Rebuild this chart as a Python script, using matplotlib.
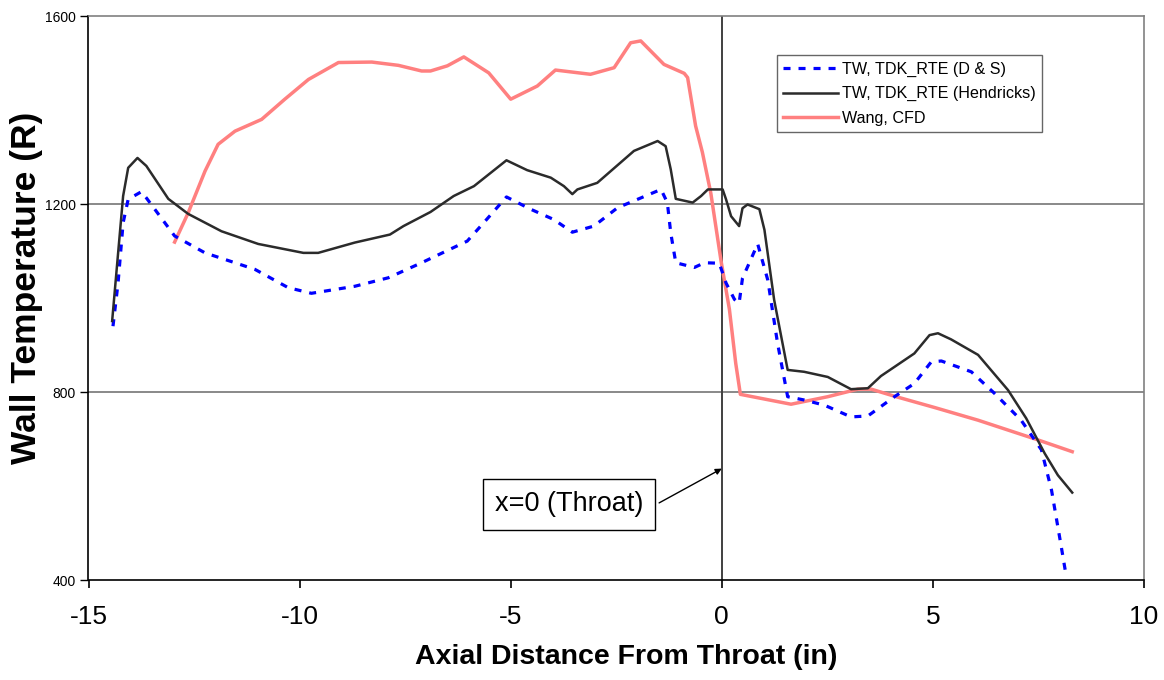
import matplotlib
matplotlib.use("Agg")
import matplotlib.pyplot as plt
from matplotlib.ticker import FixedLocator

plt.rcParams['font.family'] = ['Liberation Sans', 'DejaVu Sans']

# ---- data ----
ds_x = [-14.42, -14.30, -14.18, -14.06, -13.75, -13.63, -12.96, -12.24, -11.06, -10.27,
        -9.72, -8.69, -7.90, -7.11, -6.90, -6.03, -5.64, -5.10, -4.53, -3.98,
        -3.54, -3.03, -2.47, -1.44, -1.29, -1.21, -1.09, -0.65, -0.41, -0.06,
        0.10, 0.30, 0.41, 0.49, 0.85, 1.09, 1.32, 1.56, 1.95, 2.43,
        3.06, 3.46, 4.09, 4.56, 4.96, 5.20, 5.91, 6.46, 7.09, 7.57,
        7.81, 8.04, 8.16]
ds_y = [940, 1032, 1160, 1210, 1226, 1213, 1132, 1096, 1061, 1022,
        1010, 1025, 1043, 1075, 1084, 1121, 1160, 1215, 1189, 1167,
        1140, 1153, 1192, 1231, 1203, 1139, 1075, 1065, 1075, 1074,
        1032, 997, 989, 1042, 1115, 1038, 904, 790, 783, 772,
        747, 749, 790, 818, 864, 866, 843, 797, 740, 677,
        591, 471, 407]

hend_x = [-14.44, -14.18, -14.06, -13.84, -13.63, -13.11, -12.64, -11.85, -10.98, -9.91,
          -9.56, -8.69, -7.86, -7.54, -6.90, -6.35, -5.87, -5.10, -4.61, -4.05,
          -3.74, -3.54, -3.42, -2.95, -2.08, -1.52, -1.33, -1.21, -1.09, -0.69,
          -0.49, -0.33, 0.02, 0.10, 0.22, 0.41, 0.49, 0.61, 0.89, 1.01,
          1.24, 1.56, 1.95, 2.51, 3.06, 3.46, 3.77, 4.56, 4.92, 5.12,
          5.43, 6.07, 6.78, 7.21, 7.65, 7.96, 8.30]
hend_y = [951, 1217, 1277, 1298, 1281, 1211, 1179, 1142, 1115, 1096,
          1096, 1118, 1135, 1153, 1183, 1217, 1238, 1293, 1272, 1256,
          1238, 1221, 1231, 1245, 1313, 1334, 1323, 1274, 1211, 1203,
          1217, 1231, 1231, 1210, 1174, 1153, 1191, 1199, 1189, 1145,
          996, 847, 843, 832, 806, 808, 834, 882, 921, 925,
          912, 879, 804, 744, 669, 623, 586]

wang_x = [-12.96, -12.64, -12.24, -11.93, -11.53, -10.90, -10.35, -9.79, -9.08, -8.29,
          -7.66, -7.11, -6.90, -6.50, -6.11, -5.52, -5.00, -4.37, -3.94, -3.11,
          -2.55, -2.16, -1.92, -1.37, -0.89, -0.81, -0.62, -0.46, -0.26, -0.02,
          0.18, 0.33, 0.44, 1.64, 2.51, 3.22, 3.54, 4.09, 5.04, 6.07,
          6.78, 7.49, 8.30]
wang_y = [1119, 1181, 1270, 1327, 1355, 1380, 1423, 1465, 1501, 1502,
          1495, 1483, 1483, 1494, 1513, 1479, 1423, 1451, 1485, 1476,
          1490, 1543, 1547, 1497, 1478, 1469, 1366, 1310, 1223, 1080,
          976, 861, 795, 774, 790, 806, 806, 791, 767, 740,
          719, 698, 673]

series_labels = ["TW, TDK_RTE (D & S)", "TW, TDK_RTE (Hendricks)", "Wang, CFD"]
x_ticks = [-15, -10, -5, 0, 5, 10]
y_ticks = [400, 800, 1200, 1600]
x_label = "Axial Distance From Throat (in)"
y_label = "Wall Temperature (R)"
annot_text = "x=0 (Throat)"

# ---- figure ----
W, H = 1164, 680
fig = plt.figure(figsize=(W / 100, H / 100), dpi=100)
ax = fig.add_axes([88.5 / W, 1 - 580 / H, (1144 - 88.5) / W, (580 - 16) / H])

ax.set_xlim(-15, 10)
ax.set_ylim(400, 1600)

# gridlines at 800 and 1200 only
for yv in y_ticks[1:-1]:
    ax.axhline(yv, color='#808080', lw=1.3, zorder=1)
# throat line
ax.axvline(0, color='#404040', lw=1.4, zorder=1)

ax.plot(ds_x, ds_y, color='#0000FF', lw=2.3, dashes=(2.2, 2.5), label=series_labels[0], zorder=3)
ax.plot(hend_x, hend_y, color='#2b2b2b', lw=1.8, label=series_labels[1], zorder=3)
ax.plot(wang_x, wang_y, color='#FF8080', lw=2.5, label=series_labels[2], zorder=2)

ax.xaxis.set_major_locator(FixedLocator(x_ticks))
ax.yaxis.set_major_locator(FixedLocator(y_ticks))
ax.tick_params(axis='x', direction='out', length=6, width=1.2, labelsize=19, pad=12)
ax.tick_params(axis='y', direction='out', length=6, width=1.0, labelsize=10, pad=3)
ax.set_xticklabels([str(v) for v in x_ticks])
ax.set_yticklabels([str(v) for v in y_ticks])

for s in ['left', 'bottom']:
    ax.spines[s].set_color('black')
    ax.spines[s].set_linewidth(1.2)
for s in ['top', 'right']:
    ax.spines[s].set_color('#808080')
    ax.spines[s].set_linewidth(1.2)

fig.text(626 / W, 1 - 657 / H, x_label, fontsize=20.5, fontweight='bold',
         ha='center', va='center')
fig.text(27 / W, 1 - 288 / H, y_label, fontsize=25.5, fontweight='bold',
         ha='center', va='center', rotation=90)

leg = ax.legend(loc='upper left', bbox_to_anchor=(0.652, 0.931), borderaxespad=0,
                fontsize=11.6, frameon=True, fancybox=False, handlelength=3.4,
                handletextpad=0.25, labelspacing=0.6, borderpad=0.4)
leg.get_frame().set_edgecolor('#404040')
leg.get_frame().set_linewidth(1.0)

# annotation
ax.annotate('', xy=(0.0, 637), xytext=(-1.485, 564),
            arrowprops=dict(arrowstyle='-|>', color='black', lw=1.0,
                            mutation_scale=9, shrinkA=0, shrinkB=0), zorder=4)
ax.text(-3.62, 561, annot_text, fontsize=19.5, ha='center', va='center', zorder=5,
        bbox=dict(boxstyle='square,pad=0.45', facecolor='white', edgecolor='black', lw=1.0))

fig.savefig('out.png', dpi=100)
